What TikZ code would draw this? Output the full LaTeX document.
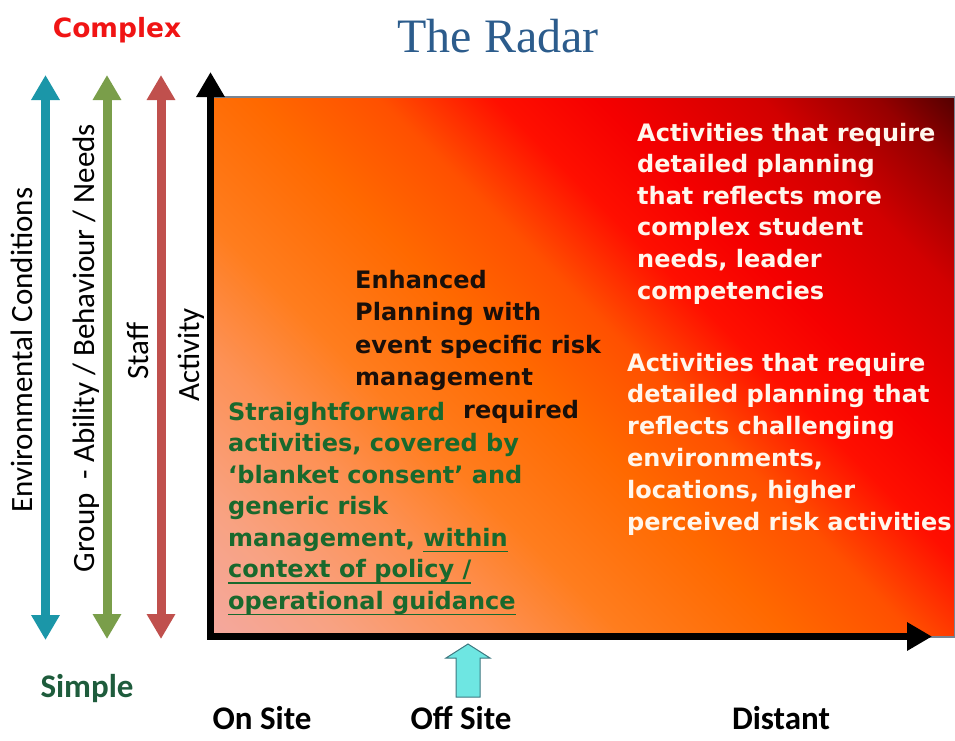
\documentclass[tikz,border=0pt]{standalone}
\usepackage{fontspec}
\usetikzlibrary{arrows.meta}
\newfontfamily\dejavu{DejaVu Sans}
\newfontfamily\carlito{Carlito}
\newfontfamily\libserif{Liberation Serif}
\definecolor{g0}{RGB}{244,168,158}
\definecolor{g1}{RGB}{248,162,130}
\definecolor{g2}{RGB}{253,145,85}
\definecolor{g3}{RGB}{255,125,30}
\definecolor{g4}{RGB}{255,105,0}
\definecolor{g5}{RGB}{255,80,0}
\definecolor{g6}{RGB}{255,15,0}
\definecolor{g7}{RGB}{245,0,0}
\definecolor{g8}{RGB}{210,0,0}
\definecolor{g9}{RGB}{150,0,0}
\definecolor{g10}{RGB}{85,0,0}
\definecolor{tealc}{RGB}{27,150,168}
\definecolor{greenc}{RGB}{122,158,74}
\definecolor{redc}{RGB}{192,80,77}
\definecolor{titleblue}{RGB}{44,92,140}
\definecolor{cxred}{RGB}{240,20,20}
\definecolor{simplegreen}{RGB}{30,92,60}
\definecolor{enhc}{RGB}{25,15,10}
\definecolor{grtxt}{RGB}{25,105,45}
\definecolor{whtxt}{RGB}{255,246,236}
\definecolor{edgegray}{RGB}{120,132,146}
\definecolor{cyanfill}{RGB}{110,230,226}
\definecolor{cyanedge}{RGB}{60,120,128}
\pgfdeclarehorizontalshading{radarshade}{100bp}{color(0bp)=(g0); color(14.6bp)=(g0); color(21.7bp)=(g1); color(30.2bp)=(g2); color(37.3bp)=(g3); color(46.5bp)=(g4); color(53.5bp)=(g5); color(59.9bp)=(g6); color(65.6bp)=(g7); color(74.7bp)=(g8); color(81.1bp)=(g9); color(85.4bp)=(g10); color(100bp)=(g10)}
\newcommand\myul[1]{\setbox0=\hbox{#1}\rlap{\vrule height -4.5pt depth 6.3pt width \wd0}\box0}
\tikzset{
  dbl/.style={line width=9pt, {Triangle[length=25pt,width=27pt]}-{Triangle[length=25pt,width=27pt]}},
  axisline/.style={line width=7pt, line join=miter, {Triangle[length=25pt,width=27pt]}-{Triangle[length=25pt,width=27pt]}},
  btxt/.style={font={\dejavu\bfseries\fontsize{24pt}{28pt}\selectfont}, anchor=base west, inner sep=0pt},
  lbl/.style={font={\carlito\fontsize{31pt}{31pt}\selectfont}, rotate=90, inner sep=0pt},
  bottomlbl/.style={font={\carlito\bfseries\fontsize{33pt}{33pt}\selectfont}, anchor=base, inner sep=0pt}
}
\begin{document}
\begin{tikzpicture}[x=1pt,y=-1pt]
\useasboundingbox (0,0) rectangle (955,740);
% gradient field
\shade[shading=radarshade, shading angle=45] (213,97) rectangle (955,637);
\draw[edgegray, line width=1.5pt] (213,97) rectangle (955,637);
% coloured double arrows
\coordinate (tT) at (45.5,75);  \coordinate (tB) at (45.5,640);
\coordinate (gT) at (107,75);   \coordinate (gB) at (107,639);
\coordinate (rT) at (161,75);   \coordinate (rB) at (161,639);
\draw[dbl, tealc] (tT) -- (tB);
\draw[dbl, greenc] (gT) -- (gB);
\draw[dbl, redc] (rT) -- (rB);
% axes
\coordinate (O) at (210.5,636.5);
\coordinate (Ytip) at (210.5,72);
\coordinate (Xtip) at (932,636.5);
\draw[axisline, black] (Ytip) -- (O) -- (Xtip);
% titles
\node[font={\libserif\fontsize{48pt}{48pt}\selectfont}, text=titleblue, anchor=base, inner sep=0pt] (title) at (498,52) {The Radar};
\node[font={\dejavu\bfseries\fontsize{26.5pt}{26.5pt}\selectfont}, text=cxred, anchor=base, inner sep=0pt] (complex) at (117,37) {Complex};
\node[bottomlbl, text=simplegreen] (simple) at (87,697) {Simple};
\node[bottomlbl] (onsite) at (262,729) {On Site};
\node[bottomlbl] (offsite) at (461,729) {Off Site};
\node[bottomlbl] (distant) at (781,729) {Distant};
% rotated labels
\node[lbl] (env) at (22,350) {Environmental Conditions};
\node[lbl] (grp) at (86,348) {Group~~- Ability / Behaviour / Needs};
\node[lbl] (stf) at (138,351) {Staff};
\node[lbl] (act) at (191,355) {Activity};
% off-site marker arrow
\draw[fill=cyanfill, draw=cyanedge, line width=1pt, line join=miter]
  (468,644) -- (490,658) -- (480,658) -- (480,697) -- (456,697) -- (456,658) -- (446,658) -- cycle;
% text blocks
\foreach \t [count=\i from 0] in {Enhanced, Planning with, event specific risk, management}
  \node[btxt, text=enhc] (enh\i) at (355, 288+32.5*\i) {\t};
\node[btxt, text=enhc] (req) at (463,418) {required};
\foreach \t [count=\i from 0] in {Straightforward, {activities, covered by}, {‘blanket consent’ and}, generic risk, {management, \myul{within}}, {\myul{context of policy /}}, {\myul{operational guidance}}}
  \node[btxt, text=grtxt] (grn\i) at (228, 420+31.5*\i) {\t};
\foreach \t [count=\i from 0] in {Activities that require, detailed planning, that reflects more, complex student, {needs, leader}, competencies}
  \node[btxt, text=whtxt] (wa\i) at (637, 141+31.6*\i) {\t};
\foreach \t [count=\i from 0] in {Activities that require, detailed planning that, reflects challenging, {environments,}, {locations, higher}, perceived risk activities}
  \node[btxt, text=whtxt] (wb\i) at (627, 371+31.8*\i) {\t};
\end{tikzpicture}
\end{document}
